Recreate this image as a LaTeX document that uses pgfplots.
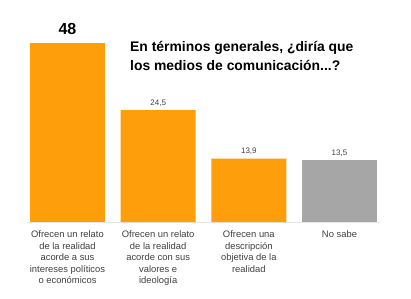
\documentclass[border=0pt]{standalone}
\usepackage{pgfplots}
\pgfplotsset{compat=1.18}
\usepackage{fontspec}
\setmainfont{Liberation Sans}
\definecolor{barorange}{HTML}{FF9E0B}
\definecolor{bargray}{HTML}{A6A6A6}
\definecolor{labgray}{HTML}{404040}
\begin{document}
\begin{tikzpicture}
\useasboundingbox (-26.7pt,-76pt) rectangle (384.3pt,222pt);
\begin{axis}[
  at={(0,0)}, anchor=south west,
  scale only axis, width=353.6pt, height=179pt,
  xmin=-0.45, xmax=3.45, ymin=0, ymax=39.2,
  clip mode=individual,
  axis y line=none, axis x line=bottom,
  x axis line style={-, draw=gray!20, line width=0.8pt},
  xtick={0,1,2,3}, xtick style={draw=none}, ytick=\empty,
  xticklabels={{Ofrecen un relato\\de la realidad\\acorde a sus\\intereses políticos\\o económicos},
               {Ofrecen un relato\\de la realidad\\acorde con sus\\valores e\\ideología},
               {Ofrecen una\\descripción\\objetiva de la\\realidad},
               {No sabe}},
  xticklabel style={align=center, font=\fontsize{9.4}{11.5}\selectfont, text=labgray, yshift=-1pt},
  ybar, bar width=75pt, bar shift=0pt,
  /pgf/number format/.cd, use comma, fixed, fixed zerofill, precision=1, assume math mode=true,
  /pgfplots/.cd,
  nodes near coords style={font=\fontsize{8}{9}\selectfont, text=labgray},
]
\addplot[fill=barorange, draw=none] coordinates {(0,48)};
\addplot[fill=barorange, draw=none, nodes near coords] coordinates {(1,24.5) (2,13.9)};
\addplot[fill=bargray, draw=none, nodes near coords] coordinates {(3,13.5)};
\node[anchor=south, font=\fontsize{16}{18}\bfseries\selectfont, inner sep=0pt] at (axis cs:0,39.2) [yshift=8pt] {48};
\end{axis}
\node[anchor=north west, align=left, font=\fontsize{13.9}{19.5}\bfseries\selectfont, inner sep=0pt] at (103.3pt,181pt)
  {En términos generales, ¿diría que\\los medios de comunicación...?};
\end{tikzpicture}
\end{document}
